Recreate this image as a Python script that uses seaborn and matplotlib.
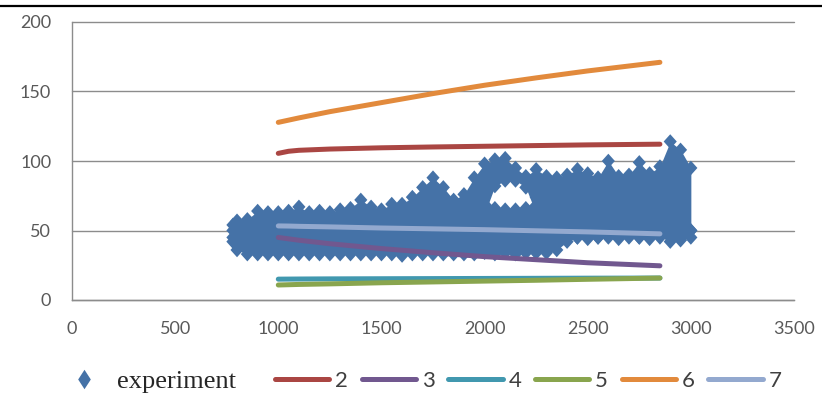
import matplotlib
matplotlib.use("Agg")
import pandas as pd
import matplotlib.pyplot as plt
import seaborn as sns
from matplotlib.lines import Line2D
from matplotlib.path import Path
from matplotlib import font_manager

# experiment cloud, read column by column: lower edge, upper edge and the
# small empty pocket inside the cloud (gap_lo / gap_hi)
exp_x = [780, 800, 850, 900, 950, 1000, 1050, 1100, 1150, 1200, 1250, 1300,
         1350, 1400, 1450, 1500, 1550, 1600, 1650, 1700, 1750, 1800, 1850,
         1900, 1950, 2000, 2050, 2100, 2150, 2200, 2250, 2300, 2350, 2400,
         2450, 2500, 2550, 2600, 2650, 2700, 2750, 2800, 2850, 2900, 2950, 3000]
exp_bottom = [42, 36, 33, 33, 33, 33, 33, 33, 33, 33, 33, 33,
              33, 33, 33, 33, 33, 32, 33, 33, 33, 33, 33,
              33, 33, 34, 33, 34, 33, 34, 34, 34, 36, 42,
              45, 44, 45, 46, 44, 46, 45, 44, 46, 42, 43, 50]
exp_top = [54, 57, 58, 64, 63, 63, 64, 67, 63, 64, 63, 65,
           66, 72, 67, 65, 69, 69, 74, 81, 88, 81, 72,
           76, 88, 98, 101, 102, 95, 89, 94, 89, 88, 90,
           94, 91, 88, 100, 89, 90, 99, 91, 96, 114, 108, 95]
exp_gap_lo = [50] * 25 + [74, 66, 65, 65, 66, 74] + [50] * 15
exp_gap_hi = [45] * 25 + [62, 82, 86, 86, 81, 62] + [45] * 15

# fitted curves
line_x = [1000, 1050, 1100, 1250, 1500, 1750, 2000, 2250, 2500, 2850]
curve_2 = [105.5, 107.0, 107.7, 108.6, 109.5, 110.1, 110.6, 111.1, 111.6, 112.1]
curve_3 = [45.0, 44.0, 43.0, 40.5, 37.0, 34.0, 31.2, 29.0, 26.8, 24.6]
curve_4 = [15.0, 15.05, 15.1, 15.2, 15.3, 15.4, 15.5, 15.6, 15.7, 15.8]
curve_5 = [10.8, 11.0, 11.2, 11.6, 12.4, 13.0, 13.6, 14.2, 14.9, 15.8]
curve_6 = [127.8, 129.4, 131.0, 135.5, 142.0, 148.5, 154.5, 159.8, 164.8, 171.0]
curve_7 = [53.3, 53.2, 53.0, 52.6, 51.8, 51.2, 50.6, 49.8, 49.0, 47.6]
curve_names = ["2", "3", "4", "5", "6", "7"]

x_ticks = [0, 500, 1000, 1500, 2000, 2500, 3000, 3500]
y_ticks = [0, 50, 100, 150, 200]

BLUE = "#4572A7"
palette = {"2": "#AA4643", "3": "#71588F", "4": "#4198AF",
           "5": "#89A54E", "6": "#E28A3C", "7": "#93A9CF"}
GRID = "#8c8c8c"

installed = {f.name for f in font_manager.fontManager.ttflist}
narrow = "Liberation Sans Narrow" if "Liberation Sans Narrow" in installed else "Lato"

sns.set_style("white")
plt.rcParams["font.family"] = ["Lato", "DejaVu Sans"]

W, H = 822, 394
fig = plt.figure(figsize=(W / 100, H / 100), dpi=100)
ax = fig.add_axes([72 / W, 1 - 300 / H, (794 - 72) / W, (300 - 22) / H])

diamond = Path([(0, 1), (0.9, 0), (0, -1), (-0.9, 0), (0, 1)], closed=True)
legend_diamond = Path([(0, 1), (0.65, 0), (0, -1), (-0.65, 0), (0, 1)], closed=True)

# cloud body, then the diamonds along its edges
ax.fill_between(exp_x, exp_bottom, exp_gap_lo, color=BLUE, lw=0, zorder=2)
ax.fill_between(exp_x, exp_gap_hi, exp_top, color=BLUE, lw=0, zorder=2)
exp_df = pd.DataFrame({
    "x": exp_x * 4,
    "y": exp_bottom + exp_gap_lo + exp_gap_hi + exp_top,
})
sns.scatterplot(data=exp_df, x="x", y="y", marker=diamond, s=110,
                color=BLUE, edgecolor="none", linewidth=0, ax=ax,
                legend=False, zorder=3)

curves = [curve_2, curve_3, curve_4, curve_5, curve_6, curve_7]
lines_df = pd.concat(
    [pd.DataFrame({"x": line_x, "y": ys, "series": name})
     for name, ys in zip(curve_names, curves)],
    ignore_index=True,
)
sns.lineplot(data=lines_df, x="x", y="y", hue="series", palette=palette,
             linewidth=3.6, sort=False, estimator=None, legend=False,
             solid_capstyle="round", ax=ax, zorder=4)

ax.set_xlim(0, 3500)
ax.set_ylim(0, 200)
ax.set_xticks(x_ticks)
ax.set_yticks(y_ticks)
ax.set_xlabel("")
ax.set_ylabel("")
ax.yaxis.grid(True, color=GRID, lw=1.0)
ax.xaxis.grid(False)
ax.set_axisbelow(True)
for line in ax.get_ygridlines():
    line.set_clip_on(False)
for side in ["top", "right"]:
    ax.spines[side].set_visible(False)
for side in ["left", "bottom"]:
    ax.spines[side].set_color(GRID)
    ax.spines[side].set_linewidth(1.0)
ax.tick_params(axis="both", direction="out", length=6, width=1, color=GRID,
               labelcolor="#595959", labelsize=13)
ax.tick_params(axis="x", pad=9)
ax.tick_params(axis="y", pad=9)

# legend: experiment entry and the six curves
exp_handle = Line2D([], [], marker=legend_diamond, markersize=14,
                    linestyle="none", color=BLUE, markeredgewidth=0)
leg1 = fig.legend([exp_handle], ["experiment"], loc="center left",
                  bbox_to_anchor=(57 / W, 1 - 381 / H), frameon=False,
                  borderpad=0, borderaxespad=0, handlelength=2.08,
                  handletextpad=0.19,
                  prop={"family": "Liberation Serif", "size": 19})
curve_handles = [Line2D([], [], color=palette[n], lw=3.6, solid_capstyle="round")
                 for n in curve_names]
leg2 = fig.legend(curve_handles, curve_names, loc="center left", ncol=6,
                  bbox_to_anchor=(275 / W, 1 - 381 / H), frameon=False,
                  borderpad=0, borderaxespad=0, handlelength=2.45,
                  handletextpad=0.25, columnspacing=0.62,
                  prop={"family": narrow, "size": 16})
for t in leg2.get_texts():
    t.set_color("#404040")

# rule above the chart
fig.add_artist(Line2D([0, 1], [1 - 6 / H, 1 - 6 / H], color="black", lw=1.6))

fig.savefig("out.png", dpi=100)
